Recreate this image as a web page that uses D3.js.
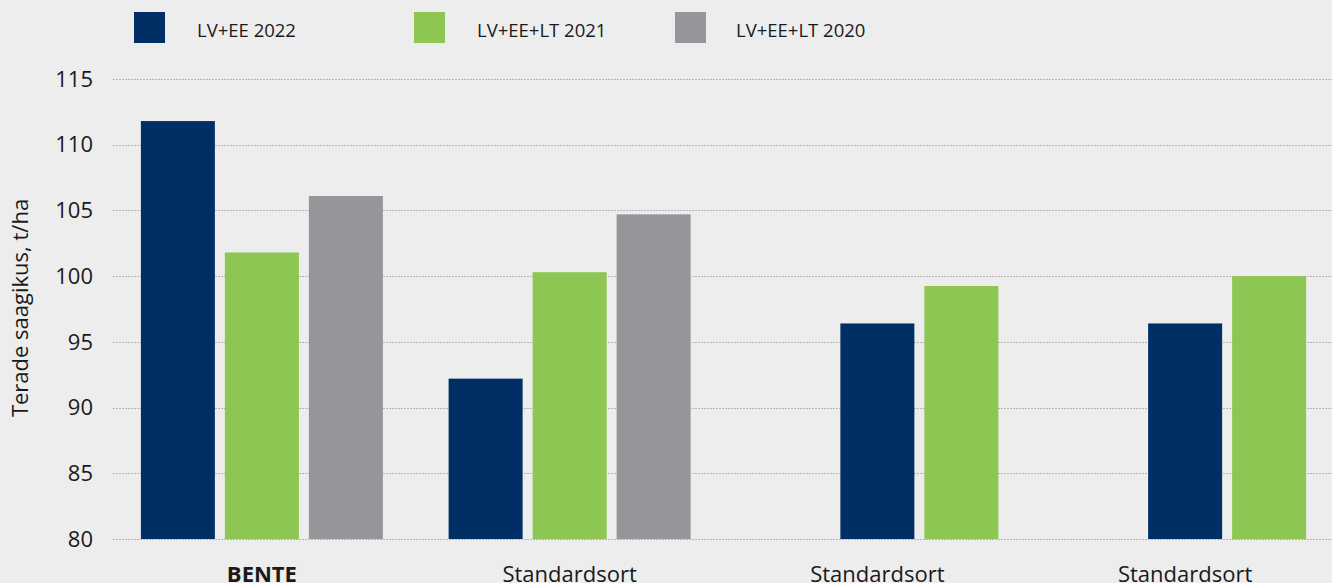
<!DOCTYPE html>
<html>
<head>
<meta charset="utf-8">
<script src="https://d3js.org/d3.v7.min.js"></script>
<style>
  body { margin: 0; background: #ededed; }
  svg { display: block; font-family: "Open Sans", sans-serif; }
</style>
</head>
<body>
<div id="chart"></div>
<script>
// data
var categories = ["BENTE", "Standardsort", "Standardsort", "Standardsort"];
var seriesNames = ["LV+EE 2022", "LV+EE+LT 2021", "LV+EE+LT 2020"];
var values2022 = [111.8, 92.2, 96.4, 96.4];
var values2021 = [101.8, 100.3, 99.25, 100.0];
var values2020 = [106.1, 104.7, null, null];
var yTicks = [80, 85, 90, 95, 100, 105, 110, 115];

var colors = ["#002f66", "#8dc652", "#959699"];
var width = 1332, height = 583;

var svg = d3.select("#chart").append("svg")
    .attr("width", width)
    .attr("height", height);

svg.append("rect").attr("width", width).attr("height", height).attr("fill", "#ededed");

var y = d3.scaleLinear().domain([80, 115]).range([539, 79]);

var x = d3.scaleBand()
    .domain(d3.range(categories.length))
    .range([108, 1339])
    .padding(0);

// three slots per group, bars are pushed right when a series is missing
var slot = d3.scaleBand()
    .domain([0, 1, 2])
    .range([-126, 126])
    .paddingInner(10 / 84)
    .paddingOuter(5 / 84);

// grid lines
svg.append("g")
  .selectAll("line")
  .data(yTicks)
  .join("line")
    .attr("x1", 113).attr("x2", width)
    .attr("y1", function(d) { return Math.round(y(d)) + 0.5; })
    .attr("y2", function(d) { return Math.round(y(d)) + 0.5; })
    .attr("stroke", "#b4b4b4")
    .attr("stroke-width", 1)
    .attr("stroke-dasharray", "2,1");

// y axis tick labels
svg.append("g")
  .selectAll("text")
  .data(yTicks)
  .join("text")
    .attr("x", 93)
    .attr("y", function(d) { return y(d); })
    .attr("dy", "0.35em")
    .attr("text-anchor", "end")
    .attr("font-size", 22)
    .attr("fill", "#1a1a1a")
    .text(function(d) { return d; });

svg.append("text")
    .attr("transform", "translate(28,308) rotate(-90)")
    .attr("text-anchor", "middle")
    .attr("font-size", 22)
    .attr("fill", "#1a1a1a")
    .text("Terade saagikus, t/ha");

// bars
var allSeries = [values2022, values2021, values2020];
var bars = [];
categories.forEach(function(c, i) {
  var present = [];
  allSeries.forEach(function(s, k) { if (s[i] != null) present.push(k); });
  present.forEach(function(k, j) {
    bars.push({ cat: i, series: k, slot: 3 - present.length + j, value: allSeries[k][i] });
  });
});

svg.append("g")
  .selectAll("rect")
  .data(bars)
  .join("rect")
    .attr("x", function(d) { return x(d.cat) + x.bandwidth() / 2 + slot(d.slot); })
    .attr("width", slot.bandwidth())
    .attr("y", function(d) { return y(d.value); })
    .attr("height", function(d) { return y(80) - y(d.value); })
    .attr("fill", function(d) { return colors[d.series]; });

// category labels (cut by the bottom edge, as in the source)
svg.append("g")
  .selectAll("text")
  .data(categories)
  .join("text")
    .attr("x", function(d, i) { return x(i) + x.bandwidth() / 2; })
    .attr("y", 582)
    .attr("text-anchor", "middle")
    .attr("font-size", 22)
    .attr("font-weight", function(d, i) { return i === 0 ? "bold" : "normal"; })
    .attr("fill", "#1a1a1a")
    .text(function(d) { return d; });

// legend
var legendX = [134, 414, 675];
var legend = svg.append("g")
  .selectAll("g")
  .data(seriesNames)
  .join("g")
    .attr("transform", function(d, i) { return "translate(" + legendX[i] + ",12)"; });

legend.append("rect")
    .attr("width", 31).attr("height", 31)
    .attr("fill", function(d, i) { return colors[i]; });

legend.append("text")
    .attr("x", function(d, i) { return i === 2 ? 61 : 63; })
    .attr("y", 25)
    .attr("font-size", 18.5)
    .attr("fill", "#1a1a1a")
    .text(function(d) { return d; });
</script>
</body>
</html>
